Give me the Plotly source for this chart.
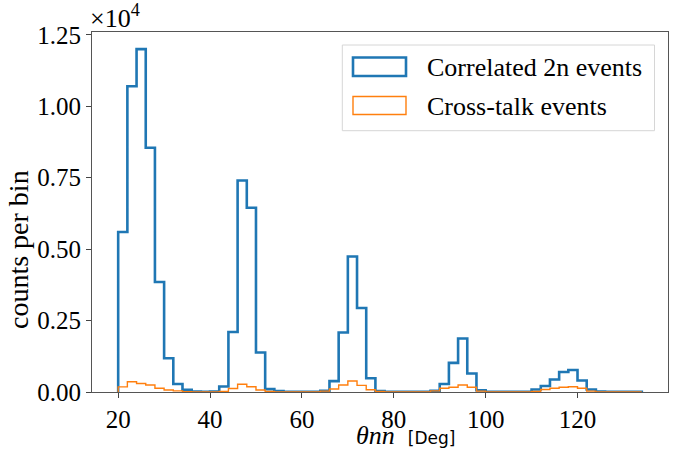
import plotly.graph_objects as go

# ---- data ----
bin_width = 2
bin_starts = list(range(20, 134, 2))  # 57 bins, 20..132 (edges 20..134)

correlated_2n = [
    5600, 10700, 12000, 8550, 3850, 1180, 280, 80, 20, 10,
    20, 190, 2100, 7400, 6450, 1380, 100, 30, 10, 5,
    5, 10, 40, 380, 2080, 4740, 2940, 480, 30, 5,
    5, 5, 5, 10, 40, 280, 1020, 1870, 650, 60,
    10, 5, 5, 5, 10, 90, 210, 440, 700, 770,
    400, 90, 15, 5, 5, 5, 5,
]
cross_talk = [
    180, 360, 300, 245, 130, 70, 40, 10, 5, 0,
    5, 20, 120, 270, 186, 70, 20, 5, 0, 0,
    0, 0, 30, 105, 245, 385, 233, 80, 15, 0,
    0, 0, 0, 0, 40, 130, 165, 245, 165, 30,
    5, 0, 0, 0, 0, 20, 90, 130, 165, 186,
    130, 30, 5, 0, 0, 0, 0,
]
series_names = ["Correlated 2n events", "Cross-talk events"]
ytick_vals = [0, 2500, 5000, 7500, 10000, 12500]
ytick_text = ["0.00", "0.25", "0.50", "0.75", "1.00", "1.25"]
xtick_vals = [20, 40, 60, 80, 100, 120]

BLUE = "#1f77b4"
ORANGE = "#ff7f0e"
SERIF = "Liberation Serif"


def step_outline(starts, counts, width):
    xs = [starts[0]] + list(starts) + [starts[-1] + width]
    ys = [0] + list(counts) + [0]
    return xs, ys


fig = go.Figure()
for vals, color, lw, name in [
    (correlated_2n, BLUE, 2.6, series_names[0]),
    (cross_talk, ORANGE, 1.4, series_names[1]),
]:
    xs, ys = step_outline(bin_starts, vals, bin_width)
    fig.add_trace(go.Scatter(
        x=xs, y=ys, mode="lines", line=dict(color=color, width=lw, shape="hv"),
        name=name, showlegend=False, hoverinfo="skip",
    ))

# plot-area pixel geometry for placing decorations
PX0, PW, PY_BOT, PH = 92.0, 576.0, 392.0, 360.0


def px(xp):
    return (xp - PX0) / PW


def py(yp):
    return (PY_BOT - yp) / PH


shapes = [
    # legend frame
    dict(type="rect", xref="paper", yref="paper",
         x0=px(342.3), x1=px(654.5), y0=py(130.7), y1=py(45.0),
         line=dict(color="#d6d6d6", width=1), fillcolor="rgba(255,255,255,0.85)", layer="above"),
    dict(type="rect", xref="paper", yref="paper",
         x0=px(353), x1=px(406), y0=py(76), y1=py(57.5),
         line=dict(color=BLUE, width=2.6), fillcolor="rgba(0,0,0,0)", layer="above"),
    dict(type="rect", xref="paper", yref="paper",
         x0=px(353), x1=px(406), y0=py(114.5), y1=py(96.5),
         line=dict(color=ORANGE, width=1.4), fillcolor="rgba(0,0,0,0)", layer="above"),
]

annotations = [
    dict(text=series_names[0], xref="paper", yref="paper", x=px(425), y=py(67.5),
         xanchor="left", yanchor="middle", showarrow=False,
         font=dict(family=SERIF, size=26, color="black")),
    dict(text=series_names[1], xref="paper", yref="paper", x=px(425), y=py(106.5),
         xanchor="left", yanchor="middle", showarrow=False,
         font=dict(family=SERIF, size=26, color="black")),
    dict(text="×10<sup>4</sup>", xref="paper", yref="paper", x=px(88), y=py(35),
         xanchor="left", yanchor="bottom", showarrow=False,
         font=dict(family=SERIF, size=26, color="black")),
    dict(text="<i>θnn</i>\u00a0\u00a0<span style='font-family:DejaVu Sans;font-size:17px'>[Deg]</span>",
         xref="paper", yref="paper", x=px(355), y=py(451),
         xanchor="left", yanchor="bottom", showarrow=False, borderpad=0,
         font=dict(family=SERIF, size=26, color="black")),
    dict(text="counts per bin", xref="paper", yref="paper", x=px(18), y=py(250),
         xanchor="center", yanchor="middle", textangle=-90, showarrow=False,
         font=dict(family=SERIF, size=28, color="black")),
]

fig.update_layout(
    width=685, height=450,
    margin=dict(l=92, r=17, t=32, b=58),
    paper_bgcolor="white", plot_bgcolor="white",
    shapes=shapes, annotations=annotations,
    showlegend=False,
)
fig.update_xaxes(
    range=[14.3, 139.7], tickvals=xtick_vals, ticks="outside", ticklen=5,
    tickcolor="#444", tickwidth=1, showgrid=False, zeroline=False,
    showline=True, linecolor="#555", linewidth=1.2, mirror=True,
    tickfont=dict(family=SERIF, size=25, color="black"),
)
fig.update_yaxes(
    range=[0, 12600], tickvals=ytick_vals, ticktext=ytick_text, ticks="outside",
    ticklen=5, tickcolor="#444", tickwidth=1, showgrid=False, zeroline=False,
    showline=True, linecolor="#555", linewidth=1.2, mirror=True,
    tickfont=dict(family=SERIF, size=25, color="black"),
)

fig.write_html("out.html")
